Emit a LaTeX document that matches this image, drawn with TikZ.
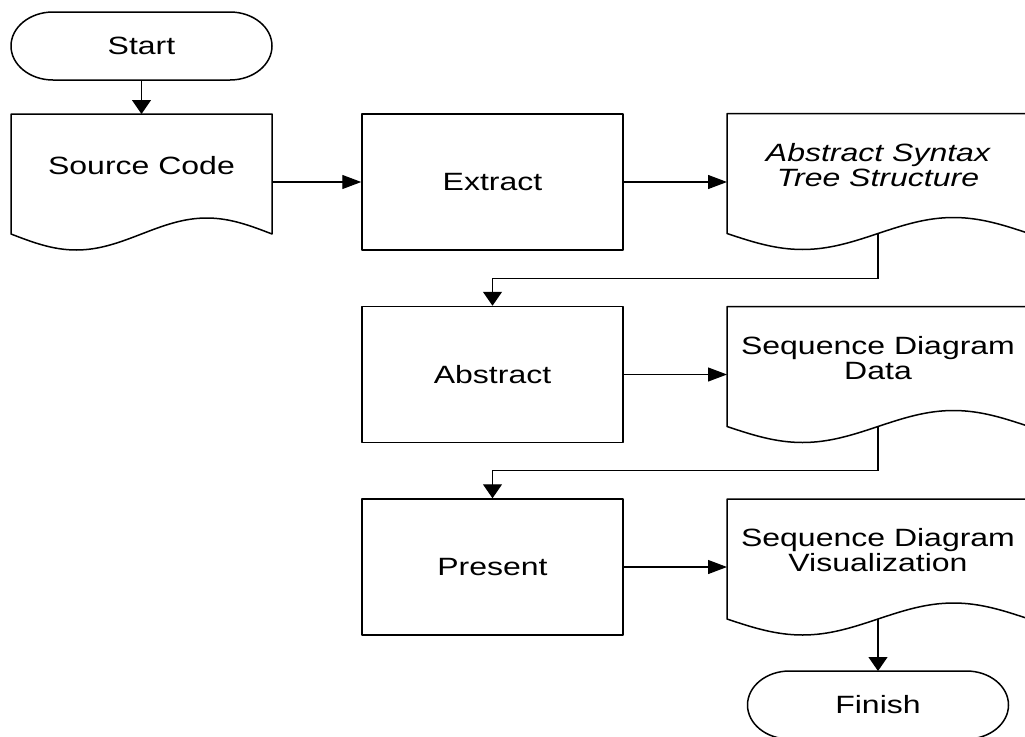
\documentclass[tikz,border=0pt]{standalone}
\usepackage{fontspec}
\setmainfont{Liberation Sans}
\usetikzlibrary{arrows.meta,calc}
% wide lettering used throughout the flowchart
\newcommand\stretchtxt[1]{\scalebox{1.28}[1]{#1}}
% stadium outline around a terminator node
\newcommand\termoutline[1]{%
  \draw[shapeline] ($(#1.north west)+(42,0)$) -- ($(#1.north east)-(42,0)$)
    arc[start angle=90,end angle=-90,x radius=42,y radius=34]
    -- ($(#1.south west)+(42,0)$)
    arc[start angle=270,end angle=90,x radius=42,y radius=34] -- cycle;}
% document outline with a wavy bottom edge (south anchor lies on the wave)
\newcommand\docoutline[1]{%
  \draw[shapeline] (#1.south west) -- (#1.north west) -- (#1.north east) -- (#1.south east)
    sin ($(#1.south west)!0.75!(#1.south east)+(0,16)$)
    cos (#1.south)
    sin ($(#1.south west)!0.25!(#1.south east)-(0,16)$)
    cos (#1.south west) -- cycle;}
\begin{document}
\begin{tikzpicture}[x=1pt,y=1pt,
  shapeline/.style={line width=1.5pt, line join=round},
  txt/.style={font=\fontsize{25}{25}\selectfont, align=center},
  term/.style={txt, minimum width=261pt, minimum height=68pt, inner sep=0pt, outer sep=0pt},
  procbox/.style={txt, draw, shapeline, minimum width=261pt, minimum height=136pt, inner sep=0pt},
  docbox/.style={minimum height=120pt, inner sep=0pt, outer sep=0pt},
  doctext/.style={txt, yshift=8.5pt},
  conn/.style={line width=1.2pt},
  harrow/.style={conn, -{Triangle[length=19pt,width=14pt]}},
  varrow/.style={conn, -{Triangle[length=14pt,width=19pt]}}]

\fill[white] (0,0) rectangle (1025,-736);
\useasboundingbox (0,0) rectangle (1025,-736);

% nodes
\node[term] (start) at (141.5,-46) {\stretchtxt{Start}};
\node[docbox, minimum width=261pt,
      label={[doctext]center:{\stretchtxt{Source Code}}}] (src) at (141.5,-174) {};
\node[procbox] (ext) at (492.5,-182) {\stretchtxt{Extract}};
\node[docbox, minimum width=302pt,
      label={[doctext, font=\fontsize{25}{25}\selectfont\itshape]center:{\stretchtxt{Abstract Syntax}\\\stretchtxt{Tree Structure}}}] (ast) at (878,-173.5) {};
\node[procbox] (abs) at (492.5,-374.5) {\stretchtxt{Abstract}};
\node[docbox, minimum width=302pt,
      label={[doctext]center:{\stretchtxt{Sequence Diagram}\\\stretchtxt{Data}}}] (sdd) at (878,-366.5) {};
\node[procbox] (pre) at (492.5,-567) {\stretchtxt{Present}};
\node[docbox, minimum width=302pt,
      label={[doctext]center:{\stretchtxt{Sequence Diagram}\\\stretchtxt{Visualization}}}] (sdv) at (878,-559) {};
\node[term] (fin) at (878,-705) {\stretchtxt{Finish}};

% outlines
\termoutline{start}
\termoutline{fin}
\docoutline{src}
\docoutline{ast}
\docoutline{sdd}
\docoutline{sdv}

% connectors
\draw[varrow] (start.south) -- (src.north);
\draw[harrow] (ext.west -| src.east) -- (ext.west);
\draw[harrow] (ext.east) -- (ext.east -| ast.west);
\draw[varrow] (ast.south) -- ++(0,-45) -| (abs.north);
\draw[harrow] (abs.east) -- (abs.east -| sdd.west);
\draw[varrow] (sdd.south) -- ++(0,-44) -| (pre.north);
\draw[harrow] (pre.east) -- (pre.east -| sdv.west);
\draw[varrow] (sdv.south) -- (fin.north);
\end{tikzpicture}
\end{document}
